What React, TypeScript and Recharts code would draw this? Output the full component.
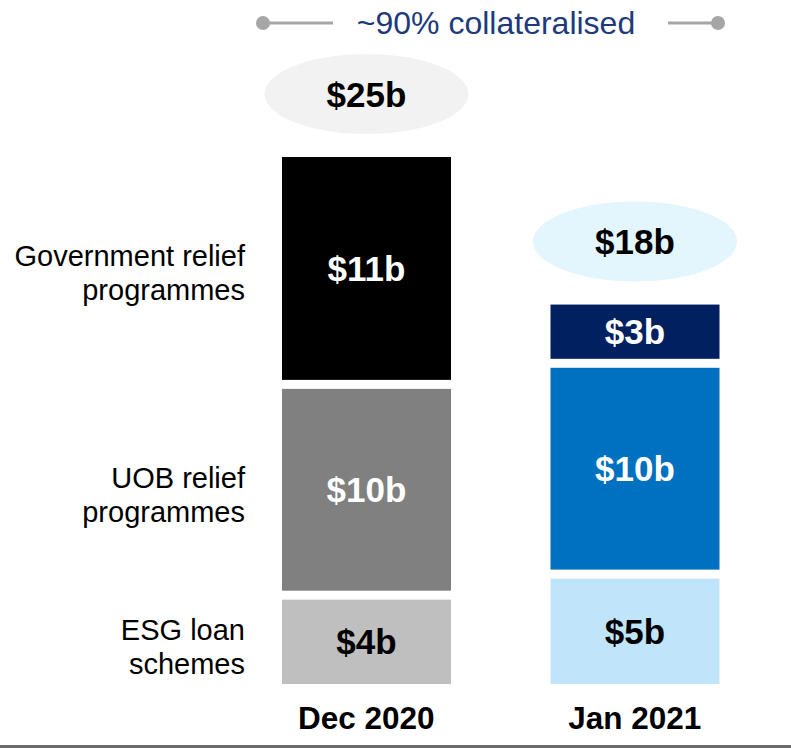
import React from 'react';
import { BarChart, Bar, XAxis, YAxis, Cell, LabelList } from 'recharts';

// values in S$ billions
const periods = ['Dec 2020', 'Jan 2021'];
const esgLoans = [4, 5];
const uobRelief = [10, 10];
const govRelief = [11, 3];

const rowLabels = [
  ['ESG loan', 'schemes'],
  ['UOB relief', 'programmes'],
  ['Government relief', 'programmes'],
];

const headline = '~90% collateralised';

const FONT = "'Liberation Sans', Arial, sans-serif";
const GAP = 9; // white space between stacked blocks

const data = periods.map((period, i) => ({
  period,
  esg: esgLoans[i],
  uob: uobRelief[i],
  gov: govRelief[i],
  total: esgLoans[i] + uobRelief[i] + govRelief[i],
}));

const SERIES = [
  { key: 'esg', colors: ['#BFBFBF', '#C0E5FB'], text: '#000000', row: rowLabels[0], gap: false },
  { key: 'uob', colors: ['#808080', '#0070C0'], text: '#FFFFFF', row: rowLabels[1], gap: true },
  { key: 'gov', colors: ['#000000', '#002060'], text: '#FFFFFF', row: rowLabels[2], gap: true },
];

const TOTAL_FILL = ['#F2F2F2', '#E3F5FD'];

const blockShape = (gap: boolean) => (props: any) => {
  const { x, y, width, height, fill } = props;
  const h = gap ? Math.max(height - GAP, 0) : height;
  return <rect x={x} y={y} width={width} height={h} fill={fill} />;
};

const valueLabel = (color: string, gap: boolean) => (props: any) => {
  const { x, y, width, height, value } = props;
  const h = gap ? height - GAP : height;
  return (
    <text x={x + width / 2} y={y + h / 2} textAnchor="middle" dominantBaseline="central"
      fill={color} fontSize={35} fontWeight="bold" fontFamily={FONT}>
      {`$${value}b`}
    </text>
  );
};

// category name to the left of the first bar only
const rowLabel = (lines: string[], gap: boolean) => (props: any) => {
  const { x, y, height, index } = props;
  if (index !== 0) return null;
  const h = gap ? height - GAP : height;
  const cy = y + h / 2 + 5;
  return (
    <text x={x - 37} y={cy} textAnchor="end" fill="#000" fontSize={29} fontFamily={FONT}>
      <tspan x={x - 37} dy={-17 + 10}>{lines[0]}</tspan>
      <tspan x={x - 37} dy={34}>{lines[1]}</tspan>
    </text>
  );
};

const totalBubble = (props: any) => {
  const { x, y, width, value, index } = props;
  const cx = x + width / 2;
  const cy = y - 63;
  return (
    <g>
      <ellipse cx={cx} cy={cy} rx={102} ry={40} fill={TOTAL_FILL[index]} />
      <text x={cx} y={cy} textAnchor="middle" dominantBaseline="central" fill="#000"
        fontSize={35} fontWeight="bold" fontFamily={FONT}>
        {`$${value}b`}
      </text>
    </g>
  );
};

const PeriodTick = ({ x, y, payload }: any) => (
  <text x={x} y={y + 37} textAnchor="middle" fill="#000" fontSize={31.5} fontWeight="bold" fontFamily={FONT}>
    {payload.value}
  </text>
);

export default function App() {
  return (
    <div style={{ position: 'absolute', left: 0, top: 0, width: 791, height: 748, background: '#fff', fontFamily: FONT }}>
      <svg width={791} height={50} style={{ position: 'absolute', left: 0, top: 0 }}>
        <line x1={263} y1={23} x2={333} y2={23} stroke="#A6A6A6" strokeWidth={3} />
        <circle cx={263} cy={23} r={7} fill="#A6A6A6" />
        <line x1={668} y1={23} x2={718} y2={23} stroke="#A6A6A6" strokeWidth={3} />
        <circle cx={718} cy={23} r={7} fill="#A6A6A6" />
        <text x={496} y={23} textAnchor="middle" dominantBaseline="central" fill="#1D3A7C" fontSize={32} fontFamily={FONT}>
          {headline}
        </text>
      </svg>

      <BarChart width={791} height={748} data={data}
        margin={{ top: 157, right: 22, left: 232, bottom: 0 }}
        style={{ position: 'absolute', left: 0, top: 0 }}>
        <XAxis dataKey="period" axisLine={false} tickLine={false} height={64} tick={<PeriodTick />} interval={0} />
        <YAxis hide domain={[0, 25]} />
        {SERIES.map((s, si) => (
          <Bar key={s.key} dataKey={s.key} stackId="a" barSize={169} isAnimationActive={false} shape={blockShape(s.gap)}>
            {data.map((_, i) => (
              <Cell key={i} fill={s.colors[i]} />
            ))}
            <LabelList dataKey={s.key} content={valueLabel(s.text, s.gap)} />
            <LabelList dataKey={s.key} content={rowLabel(s.row, s.gap)} />
            {si === SERIES.length - 1 && <LabelList dataKey="total" content={totalBubble} />}
          </Bar>
        ))}
      </BarChart>

      <div style={{ position: 'absolute', left: 0, top: 745, width: 791, height: 3, background: '#6B6B6B' }} />
    </div>
  );
}
